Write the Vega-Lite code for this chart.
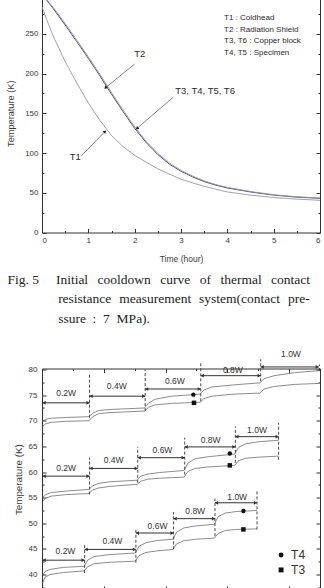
{
  "$schema": "https://vega.github.io/schema/vega-lite/v6.json",
  "background": "white",
  "padding": {"left": 6, "top": -7, "right": 0, "bottom": 0},
  "spacing": 22.5,
  "config": {
    "view": {"stroke": "#333333", "strokeWidth": 1},
    "font": "Liberation Sans",
    "axis": {
      "labelFont": "Liberation Sans",
      "titleFont": "Liberation Sans",
      "labelColor": "#3a3a3a",
      "titleColor": "#3a3a3a",
      "tickColor": "#333333",
      "titleFontWeight": "normal",
      "domain": false,
      "grid": false
    }
  },
  "datasets": {
    "cool": [
      {"t": 0, "T": 300, "sensor": "T2"}, {"t": 0.25, "T": 281, "sensor": "T2"}, {"t": 0.5, "T": 261, "sensor": "T2"},
      {"t": 0.75, "T": 240, "sensor": "T2"}, {"t": 1.0, "T": 219, "sensor": "T2"}, {"t": 1.25, "T": 197, "sensor": "T2"},
      {"t": 1.5, "T": 174, "sensor": "T2"}, {"t": 1.75, "T": 152, "sensor": "T2"}, {"t": 2.0, "T": 131, "sensor": "T2"},
      {"t": 2.25, "T": 113, "sensor": "T2"}, {"t": 2.5, "T": 98, "sensor": "T2"}, {"t": 2.75, "T": 86, "sensor": "T2"},
      {"t": 3.0, "T": 77, "sensor": "T2"}, {"t": 3.25, "T": 70, "sensor": "T2"}, {"t": 3.5, "T": 64, "sensor": "T2"},
      {"t": 3.75, "T": 59.5, "sensor": "T2"}, {"t": 4.0, "T": 56, "sensor": "T2"}, {"t": 4.5, "T": 51, "sensor": "T2"},
      {"t": 5.0, "T": 47, "sensor": "T2"}, {"t": 5.5, "T": 44.5, "sensor": "T2"}, {"t": 6.0, "T": 43, "sensor": "T2"},
      {"t": 0, "T": 300, "sensor": "T3-T6"}, {"t": 0.25, "T": 282.5, "sensor": "T3-T6"}, {"t": 0.5, "T": 263, "sensor": "T3-T6"},
      {"t": 0.75, "T": 242, "sensor": "T3-T6"}, {"t": 1.0, "T": 221, "sensor": "T3-T6"}, {"t": 1.25, "T": 199, "sensor": "T3-T6"},
      {"t": 1.5, "T": 176, "sensor": "T3-T6"}, {"t": 1.75, "T": 154, "sensor": "T3-T6"}, {"t": 2.0, "T": 133, "sensor": "T3-T6"},
      {"t": 2.25, "T": 114.5, "sensor": "T3-T6"}, {"t": 2.5, "T": 99.5, "sensor": "T3-T6"}, {"t": 2.75, "T": 87.5, "sensor": "T3-T6"},
      {"t": 3.0, "T": 78, "sensor": "T3-T6"}, {"t": 3.25, "T": 71, "sensor": "T3-T6"}, {"t": 3.5, "T": 65, "sensor": "T3-T6"},
      {"t": 3.75, "T": 60.3, "sensor": "T3-T6"}, {"t": 4.0, "T": 56.8, "sensor": "T3-T6"}, {"t": 4.5, "T": 51.6, "sensor": "T3-T6"},
      {"t": 5.0, "T": 47.5, "sensor": "T3-T6"}, {"t": 5.5, "T": 44.9, "sensor": "T3-T6"}, {"t": 6.0, "T": 43.3, "sensor": "T3-T6"},
      {"t": 0, "T": 284, "sensor": "T1"}, {"t": 0.1, "T": 268, "sensor": "T1"}, {"t": 0.25, "T": 246, "sensor": "T1"},
      {"t": 0.5, "T": 215, "sensor": "T1"}, {"t": 0.75, "T": 188, "sensor": "T1"}, {"t": 1.0, "T": 163, "sensor": "T1"},
      {"t": 1.25, "T": 141, "sensor": "T1"}, {"t": 1.5, "T": 122, "sensor": "T1"}, {"t": 1.75, "T": 108, "sensor": "T1"},
      {"t": 2.0, "T": 97, "sensor": "T1"}, {"t": 2.5, "T": 80, "sensor": "T1"}, {"t": 3.0, "T": 67, "sensor": "T1"},
      {"t": 3.5, "T": 58, "sensor": "T1"}, {"t": 4.0, "T": 51, "sensor": "T1"}, {"t": 4.5, "T": 47, "sensor": "T1"},
      {"t": 5.0, "T": 44, "sensor": "T1"}, {"t": 5.5, "T": 42, "sensor": "T1"}, {"t": 6.0, "T": 40.5, "sensor": "T1"}
    ],
    "coolArrows": [
      {"label": "T2", "from_t": 2.0, "from_T": 212, "to_t": 1.37, "to_T": 182},
      {"label": "T3", "from_t": 2.83, "from_T": 170, "to_t": 2.05, "to_T": 131},
      {"label": "T1", "from_t": 0.85, "from_T": 96.5, "to_t": 1.36, "to_T": 127}
    ],
    "coolLabels": [
      {"t": 2.11, "T": 225, "text": "T2"},
      {"t": 3.52, "T": 178.6, "text": "T3, T4, T5, T6"},
      {"t": 0.72, "T": 94.7, "text": "T1"}
    ],
    "coolKey": [
      {"t": 3.93, "T": 270, "text": "T1 : Coldhead"},
      {"t": 3.93, "T": 255, "text": "T2 : Radiation Shield"},
      {"t": 3.93, "T": 240.7, "text": "T3, T6 : Copper block"},
      {"t": 3.93, "T": 226, "text": "T4, T5 : Specimen"}
    ],
    "steps": [
      {"group": "A", "sensor": "T4", "u": 0.1, "T": 69.9}, {"group": "A", "sensor": "T4", "u": 0.6, "T": 70.3},
      {"group": "A", "sensor": "T4", "u": 1.5, "T": 70.5}, {"group": "A", "sensor": "T4", "u": 4, "T": 70.65},
      {"group": "A", "sensor": "T4", "u": 7.6, "T": 70.8}, {"group": "A", "sensor": "T4", "u": 8.2, "T": 71.5},
      {"group": "A", "sensor": "T4", "u": 9.2, "T": 72.0}, {"group": "A", "sensor": "T4", "u": 11, "T": 72.2},
      {"group": "A", "sensor": "T4", "u": 16.6, "T": 72.5}, {"group": "A", "sensor": "T4", "u": 17.2, "T": 73.4},
      {"group": "A", "sensor": "T4", "u": 18.3, "T": 74.2}, {"group": "A", "sensor": "T4", "u": 21, "T": 74.8},
      {"group": "A", "sensor": "T4", "u": 25.6, "T": 75.2}, {"group": "A", "sensor": "T4", "u": 26.2, "T": 76.0},
      {"group": "A", "sensor": "T4", "u": 27.5, "T": 76.6}, {"group": "A", "sensor": "T4", "u": 31, "T": 77.0},
      {"group": "A", "sensor": "T4", "u": 35.3, "T": 77.4}, {"group": "A", "sensor": "T4", "u": 35.9, "T": 78.2},
      {"group": "A", "sensor": "T4", "u": 37.6, "T": 78.8}, {"group": "A", "sensor": "T4", "u": 41, "T": 79.4},
      {"group": "A", "sensor": "T4", "u": 45, "T": 79.8},
      {"group": "A", "sensor": "T3", "u": 0.1, "T": 68.9}, {"group": "A", "sensor": "T3", "u": 0.6, "T": 69.4},
      {"group": "A", "sensor": "T3", "u": 1.5, "T": 69.7}, {"group": "A", "sensor": "T3", "u": 4, "T": 69.9},
      {"group": "A", "sensor": "T3", "u": 7.6, "T": 70.0}, {"group": "A", "sensor": "T3", "u": 8.2, "T": 70.8},
      {"group": "A", "sensor": "T3", "u": 9.2, "T": 71.4}, {"group": "A", "sensor": "T3", "u": 11, "T": 71.6},
      {"group": "A", "sensor": "T3", "u": 16.6, "T": 71.9}, {"group": "A", "sensor": "T3", "u": 17.2, "T": 72.6},
      {"group": "A", "sensor": "T3", "u": 18.3, "T": 73.1}, {"group": "A", "sensor": "T3", "u": 21, "T": 73.4},
      {"group": "A", "sensor": "T3", "u": 25.6, "T": 73.6}, {"group": "A", "sensor": "T3", "u": 26.2, "T": 74.3},
      {"group": "A", "sensor": "T3", "u": 27.5, "T": 74.8}, {"group": "A", "sensor": "T3", "u": 31, "T": 75.2},
      {"group": "A", "sensor": "T3", "u": 35.3, "T": 75.4}, {"group": "A", "sensor": "T3", "u": 35.9, "T": 76.2},
      {"group": "A", "sensor": "T3", "u": 37.6, "T": 76.7}, {"group": "A", "sensor": "T3", "u": 41, "T": 77.1},
      {"group": "A", "sensor": "T3", "u": 45, "T": 77.3},
      {"group": "B", "sensor": "T4", "u": 0.1, "T": 55.0}, {"group": "B", "sensor": "T4", "u": 0.6, "T": 55.6},
      {"group": "B", "sensor": "T4", "u": 1.5, "T": 56.0}, {"group": "B", "sensor": "T4", "u": 4, "T": 56.3},
      {"group": "B", "sensor": "T4", "u": 7.6, "T": 56.6}, {"group": "B", "sensor": "T4", "u": 8.2, "T": 57.3},
      {"group": "B", "sensor": "T4", "u": 9.2, "T": 57.8}, {"group": "B", "sensor": "T4", "u": 11, "T": 58.1},
      {"group": "B", "sensor": "T4", "u": 15.4, "T": 58.4}, {"group": "B", "sensor": "T4", "u": 16.0, "T": 59.2},
      {"group": "B", "sensor": "T4", "u": 17.1, "T": 59.6}, {"group": "B", "sensor": "T4", "u": 19, "T": 59.9},
      {"group": "B", "sensor": "T4", "u": 23.0, "T": 60.3}, {"group": "B", "sensor": "T4", "u": 23.6, "T": 61.7},
      {"group": "B", "sensor": "T4", "u": 24.8, "T": 62.6}, {"group": "B", "sensor": "T4", "u": 27, "T": 63.0},
      {"group": "B", "sensor": "T4", "u": 31.2, "T": 63.5}, {"group": "B", "sensor": "T4", "u": 31.8, "T": 64.8},
      {"group": "B", "sensor": "T4", "u": 33, "T": 65.5}, {"group": "B", "sensor": "T4", "u": 35, "T": 65.9},
      {"group": "B", "sensor": "T4", "u": 38.3, "T": 66.2},
      {"group": "B", "sensor": "T3", "u": 0.1, "T": 54.3}, {"group": "B", "sensor": "T3", "u": 0.6, "T": 54.9},
      {"group": "B", "sensor": "T3", "u": 1.5, "T": 55.3}, {"group": "B", "sensor": "T3", "u": 4, "T": 55.6},
      {"group": "B", "sensor": "T3", "u": 7.6, "T": 55.8}, {"group": "B", "sensor": "T3", "u": 8.2, "T": 56.5},
      {"group": "B", "sensor": "T3", "u": 9.2, "T": 56.9}, {"group": "B", "sensor": "T3", "u": 11, "T": 57.2},
      {"group": "B", "sensor": "T3", "u": 15.4, "T": 57.6}, {"group": "B", "sensor": "T3", "u": 16.0, "T": 58.2},
      {"group": "B", "sensor": "T3", "u": 17.1, "T": 58.6}, {"group": "B", "sensor": "T3", "u": 19, "T": 58.8},
      {"group": "B", "sensor": "T3", "u": 23.0, "T": 59.0}, {"group": "B", "sensor": "T3", "u": 23.6, "T": 60.1},
      {"group": "B", "sensor": "T3", "u": 24.8, "T": 60.7}, {"group": "B", "sensor": "T3", "u": 27, "T": 61.0},
      {"group": "B", "sensor": "T3", "u": 31.2, "T": 61.3}, {"group": "B", "sensor": "T3", "u": 31.8, "T": 62.2},
      {"group": "B", "sensor": "T3", "u": 33, "T": 62.7}, {"group": "B", "sensor": "T3", "u": 35, "T": 62.9},
      {"group": "B", "sensor": "T3", "u": 38.3, "T": 63.1},
      {"group": "C", "sensor": "T4", "u": 0.1, "T": 39.8}, {"group": "C", "sensor": "T4", "u": 0.5, "T": 40.6},
      {"group": "C", "sensor": "T4", "u": 1.3, "T": 41.0}, {"group": "C", "sensor": "T4", "u": 3.5, "T": 41.4},
      {"group": "C", "sensor": "T4", "u": 6.8, "T": 41.6}, {"group": "C", "sensor": "T4", "u": 7.4, "T": 42.8},
      {"group": "C", "sensor": "T4", "u": 8.4, "T": 43.5}, {"group": "C", "sensor": "T4", "u": 11, "T": 43.9},
      {"group": "C", "sensor": "T4", "u": 15.1, "T": 44.2}, {"group": "C", "sensor": "T4", "u": 15.7, "T": 45.5},
      {"group": "C", "sensor": "T4", "u": 16.8, "T": 46.2}, {"group": "C", "sensor": "T4", "u": 18.5, "T": 46.6},
      {"group": "C", "sensor": "T4", "u": 21.2, "T": 46.9}, {"group": "C", "sensor": "T4", "u": 21.8, "T": 48.3},
      {"group": "C", "sensor": "T4", "u": 23, "T": 49.1}, {"group": "C", "sensor": "T4", "u": 25, "T": 49.5},
      {"group": "C", "sensor": "T4", "u": 27.9, "T": 49.8}, {"group": "C", "sensor": "T4", "u": 28.5, "T": 51.3},
      {"group": "C", "sensor": "T4", "u": 29.7, "T": 52.0}, {"group": "C", "sensor": "T4", "u": 31.5, "T": 52.3},
      {"group": "C", "sensor": "T4", "u": 34.8, "T": 52.5},
      {"group": "C", "sensor": "T3", "u": 0.1, "T": 38.3}, {"group": "C", "sensor": "T3", "u": 0.5, "T": 39.5},
      {"group": "C", "sensor": "T3", "u": 1.3, "T": 40.0}, {"group": "C", "sensor": "T3", "u": 3.5, "T": 40.4},
      {"group": "C", "sensor": "T3", "u": 6.8, "T": 40.7}, {"group": "C", "sensor": "T3", "u": 7.4, "T": 41.5},
      {"group": "C", "sensor": "T3", "u": 8.4, "T": 42.1}, {"group": "C", "sensor": "T3", "u": 11, "T": 42.4},
      {"group": "C", "sensor": "T3", "u": 15.1, "T": 42.6}, {"group": "C", "sensor": "T3", "u": 15.7, "T": 43.7},
      {"group": "C", "sensor": "T3", "u": 16.8, "T": 44.3}, {"group": "C", "sensor": "T3", "u": 18.5, "T": 44.6},
      {"group": "C", "sensor": "T3", "u": 21.2, "T": 44.9}, {"group": "C", "sensor": "T3", "u": 21.8, "T": 46.0},
      {"group": "C", "sensor": "T3", "u": 23, "T": 46.6}, {"group": "C", "sensor": "T3", "u": 25, "T": 46.9},
      {"group": "C", "sensor": "T3", "u": 27.9, "T": 47.1}, {"group": "C", "sensor": "T3", "u": 28.5, "T": 48.0},
      {"group": "C", "sensor": "T3", "u": 29.7, "T": 48.6}, {"group": "C", "sensor": "T3", "u": 31.5, "T": 48.8},
      {"group": "C", "sensor": "T3", "u": 34.8, "T": 48.9}
    ],
    "markers": [
      {"group": "A", "sensor": "T4", "u": 24.5, "T": 75.1}, {"group": "A", "sensor": "T3", "u": 24.6, "T": 73.5},
      {"group": "B", "sensor": "T4", "u": 30.4, "T": 63.6}, {"group": "B", "sensor": "T3", "u": 30.4, "T": 61.3},
      {"group": "C", "sensor": "T4", "u": 32.6, "T": 52.4}, {"group": "C", "sensor": "T3", "u": 32.6, "T": 48.8}
    ],
    "dashes": [
      {"group": "A", "u": 0.1, "lo": 69.0, "hi": 77.7}, {"group": "A", "u": 7.7, "lo": 70.6, "hi": 79.0},
      {"group": "A", "u": 16.7, "lo": 71.9, "hi": 80.0}, {"group": "A", "u": 25.7, "lo": 73.8, "hi": 81.6},
      {"group": "A", "u": 35.4, "lo": 77.7, "hi": 82.0}, {"group": "A", "u": 44.9, "lo": 79.7, "hi": 81.0},
      {"group": "B", "u": 0.1, "lo": 54.0, "hi": 59.8}, {"group": "B", "u": 7.7, "lo": 55.6, "hi": 62.8},
      {"group": "B", "u": 15.5, "lo": 57.9, "hi": 64.9}, {"group": "B", "u": 23.1, "lo": 59.5, "hi": 66.7},
      {"group": "B", "u": 31.3, "lo": 61.8, "hi": 68.9}, {"group": "B", "u": 38.3, "lo": 62.4, "hi": 69.6},
      {"group": "C", "u": 0.1, "lo": 37.7, "hi": 44.5}, {"group": "C", "u": 6.9, "lo": 40.3, "hi": 45.9},
      {"group": "C", "u": 15.2, "lo": 42.3, "hi": 49.1}, {"group": "C", "u": 21.3, "lo": 44.9, "hi": 52.2},
      {"group": "C", "u": 28.0, "lo": 47.5, "hi": 54.8}, {"group": "C", "u": 34.8, "lo": 48.8, "hi": 56.3}
    ],
    "loads": [
      {"group": "A", "load": "0.2W", "u1": 0.1, "u2": 7.7, "T": 73.5, "label_u": 3.9, "label_T": 75.45},
      {"group": "A", "load": "0.4W", "u1": 7.7, "u2": 16.7, "T": 74.8, "label_u": 12.1, "label_T": 76.75},
      {"group": "A", "load": "0.6W", "u1": 16.7, "u2": 25.7, "T": 76.2, "label_u": 21.5, "label_T": 77.8},
      {"group": "A", "load": "0.8W", "u1": 25.7, "u2": 35.4, "T": 78.8, "label_u": 30.9, "label_T": 80.0},
      {"group": "A", "load": "1.0W", "u1": 35.4, "u2": 44.8, "T": 80.5, "label_u": 40.3, "label_T": 83.1},
      {"group": "B", "load": "0.2W", "u1": 0.1, "u2": 7.7, "T": 59.2, "label_u": 3.9, "label_T": 60.8},
      {"group": "B", "load": "0.4W", "u1": 7.7, "u2": 15.5, "T": 60.7, "label_u": 11.6, "label_T": 62.3},
      {"group": "B", "load": "0.6W", "u1": 15.5, "u2": 23.1, "T": 62.8, "label_u": 19.5, "label_T": 64.3},
      {"group": "B", "load": "0.8W", "u1": 23.1, "u2": 31.3, "T": 64.9, "label_u": 27.3, "label_T": 66.3},
      {"group": "B", "load": "1.0W", "u1": 31.3, "u2": 38.3, "T": 66.9, "label_u": 34.8, "label_T": 68.2},
      {"group": "C", "load": "0.2W", "u1": 0.1, "u2": 6.9, "T": 42.8, "label_u": 3.8, "label_T": 44.55},
      {"group": "C", "load": "0.4W", "u1": 6.9, "u2": 15.2, "T": 44.9, "label_u": 11.4, "label_T": 46.6},
      {"group": "C", "load": "0.6W", "u1": 15.2, "u2": 21.3, "T": 48.1, "label_u": 18.7, "label_T": 49.4},
      {"group": "C", "load": "0.8W", "u1": 21.3, "u2": 28.0, "T": 50.9, "label_u": 24.8, "label_T": 52.35},
      {"group": "C", "load": "1.0W", "u1": 28.0, "u2": 34.8, "T": 54.0, "label_u": 31.6, "label_T": 55.1}
    ],
    "key": [
      {"sensor": "T4", "u": 38.7, "T": 43.8},
      {"sensor": "T3", "u": 38.7, "T": 40.9}
    ]
  },
  "vconcat": [
    {
      "width": 278,
      "height": 238.5,
      "title": {
        "text": [
          "Fig. 5\u00a0\u00a0\u00a0\u00a0\u00a0Initial\u2002\u2009cooldown\u2002\u2009curve\u2002\u2009of\u2002\u2009thermal\u2002\u2009contact",
          "\u200b\u00a0\u00a0\u00a0\u00a0\u00a0\u00a0\u00a0\u00a0\u00a0\u00a0\u00a0\u00a0\u00a0\u00a0\u00a0resistance\u2002\u200ameasurement\u2002\u200asystem(contact\u2002\u200apre-",
          "\u200b\u00a0\u00a0\u00a0\u00a0\u00a0\u00a0\u00a0\u00a0\u00a0\u00a0\u00a0\u00a0\u00a0\u00a0\u00a0ssure\u2002:\u20027\u2002MPa)."
        ],
        "orient": "bottom",
        "anchor": "start",
        "frame": "group",
        "dx": -34.5,
        "offset": 9.5,
        "font": "Liberation Serif",
        "fontSize": 13.5,
        "fontWeight": "normal",
        "color": "#222222",
        "lineHeight": 19.5
      },
      "resolve": {"axis": {"x": "independent", "y": "independent"}},
      "layer": [
        {
          "data": {"name": "cool"},
          "mark": {"type": "line", "clip": true},
          "encoding": {
            "x": {
              "field": "t", "type": "quantitative",
              "scale": {"domain": [0, 6], "nice": false, "zero": false},
              "axis": {"orient": "bottom", "values": [0, 1, 2, 3, 4, 5, 6], "title": "Time (hour)", "tickSize": -4, "labelPadding": 8, "titlePadding": 10, "labelFontSize": 8, "titleFontSize": 8.5}
            },
            "y": {
              "field": "T", "type": "quantitative",
              "scale": {"domain": [0, 300], "nice": false},
              "axis": {"orient": "left", "values": [0, 50, 100, 150, 200, 250], "title": "Temperature (K)", "tickSize": -4, "labelPadding": 8, "titlePadding": 9, "labelFontSize": 8, "titleFontSize": 9.2}
            },
            "color": {"field": "sensor", "type": "nominal", "scale": {"domain": ["T1", "T3-T6", "T2"], "range": ["#8a8a8a", "#8f8f8f", "#3e3e8e"]}, "legend": null},
            "strokeWidth": {"field": "sensor", "type": "nominal", "scale": {"domain": ["T1", "T3-T6", "T2"], "range": [0.8, 0.9, 1.3]}, "legend": null},
            "order": {"field": "t", "type": "quantitative"}
          }
        },
        {
          "data": {"name": "coolArrows"},
          "mark": {"type": "rule", "color": "#666666", "strokeWidth": 0.8},
          "encoding": {
            "x": {"field": "from_t", "type": "quantitative", "axis": {"orient": "bottom", "values": [0.5, 1.5, 2.5, 3.5, 4.5, 5.5], "labels": false, "tickSize": -2, "title": null}},
            "y": {"field": "from_T", "type": "quantitative", "axis": {"orient": "left", "values": [25, 75, 125, 175, 225, 275], "labels": false, "tickSize": -2, "title": null}},
            "x2": {"field": "to_t"},
            "y2": {"field": "to_T"}
          }
        },
        {
          "data": {"name": "coolArrows"},
          "transform": [{"filter": "datum.label == 'T2'"}],
          "mark": {"type": "point", "shape": "triangle-up", "filled": true, "color": "#222222", "size": 14, "angle": 230, "opacity": 1},
          "encoding": {
            "x": {"field": "to_t", "type": "quantitative", "axis": {"orient": "top", "values": [0, 1, 2, 3, 4, 5, 6], "labels": false, "tickSize": -4, "title": null}},
            "y": {"field": "to_T", "type": "quantitative", "axis": {"orient": "right", "values": [0, 50, 100, 150, 200, 250, 300], "labels": false, "tickSize": -4, "title": null}}
          }
        },
        {
          "data": {"name": "coolArrows"},
          "transform": [{"filter": "datum.label == 'T3'"}],
          "mark": {"type": "point", "shape": "triangle-up", "filled": true, "color": "#222222", "size": 14, "angle": 229, "opacity": 1},
          "encoding": {
            "x": {"field": "to_t", "type": "quantitative", "axis": {"orient": "top", "values": [0.5, 1.5, 2.5, 3.5, 4.5, 5.5], "labels": false, "tickSize": -2, "title": null}},
            "y": {"field": "to_T", "type": "quantitative", "axis": {"orient": "right", "values": [25, 75, 125, 175, 225, 275], "labels": false, "tickSize": -2, "title": null}}
          }
        },
        {
          "data": {"name": "coolArrows"},
          "transform": [{"filter": "datum.label == 'T1'"}],
          "mark": {"type": "point", "shape": "triangle-up", "filled": true, "color": "#222222", "size": 14, "angle": 46, "opacity": 1},
          "encoding": {
            "x": {"field": "to_t", "type": "quantitative", "axis": null},
            "y": {"field": "to_T", "type": "quantitative", "axis": null}
          }
        },
        {
          "data": {"name": "coolLabels"},
          "mark": {"type": "text", "fontSize": 9.5, "color": "#2a2a2a", "align": "center", "baseline": "middle"},
          "encoding": {
            "x": {"field": "t", "type": "quantitative", "axis": null},
            "y": {"field": "T", "type": "quantitative", "axis": null},
            "text": {"field": "text"}
          }
        },
        {
          "data": {"name": "coolKey"},
          "mark": {"type": "text", "fontSize": 8, "color": "#2a2a2a", "align": "left", "baseline": "middle"},
          "encoding": {
            "x": {"field": "t", "type": "quantitative", "axis": null},
            "y": {"field": "T", "type": "quantitative", "axis": null},
            "text": {"field": "text"}
          }
        }
      ]
    },
    {
      "width": 278,
      "height": 221.4,
      "resolve": {"axis": {"x": "independent", "y": "independent"}},
      "layer": [
        {
          "data": {"name": "steps"},
          "mark": {"type": "line", "color": "#6e6e6e", "strokeWidth": 0.8, "clip": true},
          "encoding": {
            "x": {
              "field": "u", "type": "quantitative",
              "scale": {"domain": [0, 45], "nice": false, "zero": false},
              "axis": {"orient": "bottom", "values": [0, 10, 20, 30, 40], "title": null, "labels": false, "tickSize": -4}
            },
            "y": {
              "field": "T", "type": "quantitative",
              "scale": {"domain": [37, 80.2], "nice": false, "zero": false},
              "axis": {"orient": "left", "values": [40, 45, 50, 55, 60, 65, 70, 75, 80], "title": "Temperature (K)", "tickSize": -4, "labelPadding": 9, "titlePadding": 5, "labelFontSize": 8, "titleFontSize": 9.8}
            },
            "detail": [{"field": "group"}, {"field": "sensor"}],
            "order": {"field": "u", "type": "quantitative"}
          }
        },
        {
          "data": {"name": "dashes"},
          "mark": {"type": "rule", "color": "#333333", "strokeWidth": 0.9, "strokeDash": [3, 2]},
          "encoding": {
            "x": {"field": "u", "type": "quantitative", "axis": {"orient": "bottom", "values": [5, 15, 25, 35], "labels": false, "tickSize": -2, "title": null}},
            "y": {"field": "lo", "type": "quantitative", "axis": {"orient": "left", "values": [37.5, 42.5, 47.5, 52.5, 57.5, 62.5, 67.5, 72.5, 77.5], "labels": false, "tickSize": -2, "title": null}},
            "y2": {"field": "hi"}
          }
        },
        {
          "data": {"name": "loads"},
          "mark": {"type": "rule", "color": "#333333", "strokeWidth": 1},
          "encoding": {
            "x": {"field": "u1", "type": "quantitative", "axis": {"orient": "top", "values": [0, 10, 20, 30, 40], "labels": false, "tickSize": -4, "title": null}},
            "x2": {"field": "u2"},
            "y": {"field": "T", "type": "quantitative", "axis": {"orient": "right", "values": [40, 45, 50, 55, 60, 65, 70, 75, 80], "labels": false, "tickSize": -4, "title": null}}
          }
        },
        {
          "data": {"name": "loads"},
          "mark": {"type": "point", "shape": "triangle-left", "filled": true, "color": "#333333", "size": 14, "opacity": 1, "xOffset": 1.5},
          "encoding": {
            "x": {"field": "u1", "type": "quantitative", "axis": {"orient": "top", "values": [5, 15, 25, 35], "labels": false, "tickSize": -2, "title": null}},
            "y": {"field": "T", "type": "quantitative", "axis": {"orient": "right", "values": [37.5, 42.5, 47.5, 52.5, 57.5, 62.5, 67.5, 72.5, 77.5], "labels": false, "tickSize": -2, "title": null}}
          }
        },
        {
          "data": {"name": "loads"},
          "mark": {"type": "point", "shape": "triangle-right", "filled": true, "color": "#333333", "size": 14, "opacity": 1, "xOffset": -1.5},
          "encoding": {
            "x": {"field": "u2", "type": "quantitative", "axis": null},
            "y": {"field": "T", "type": "quantitative", "axis": null}
          }
        },
        {
          "data": {"name": "loads"},
          "mark": {"type": "text", "fontSize": 8.5, "color": "#333333", "align": "center", "baseline": "middle"},
          "encoding": {
            "x": {"field": "label_u", "type": "quantitative", "axis": null},
            "y": {"field": "label_T", "type": "quantitative", "axis": null},
            "text": {"field": "load"}
          }
        },
        {
          "data": {"name": "markers"},
          "mark": {"type": "point", "filled": true, "color": "#111111", "size": 20, "opacity": 1},
          "encoding": {
            "x": {"field": "u", "type": "quantitative", "axis": null},
            "y": {"field": "T", "type": "quantitative", "axis": null},
            "shape": {"field": "sensor", "type": "nominal", "scale": {"domain": ["T4", "T3"], "range": ["circle", "square"]}, "legend": null}
          }
        },
        {
          "data": {"name": "key"},
          "mark": {"type": "point", "filled": true, "color": "#111111", "size": 24, "opacity": 1},
          "encoding": {
            "x": {"field": "u", "type": "quantitative", "axis": null},
            "y": {"field": "T", "type": "quantitative", "axis": null},
            "shape": {"field": "sensor", "type": "nominal", "scale": {"domain": ["T4", "T3"], "range": ["circle", "square"]}, "legend": null}
          }
        },
        {
          "data": {"name": "key"},
          "mark": {"type": "text", "fontSize": 12, "color": "#333333", "align": "left", "baseline": "middle", "dx": 10},
          "encoding": {
            "x": {"field": "u", "type": "quantitative", "axis": null},
            "y": {"field": "T", "type": "quantitative", "axis": null},
            "text": {"field": "sensor"}
          }
        }
      ]
    }
  ]
}
